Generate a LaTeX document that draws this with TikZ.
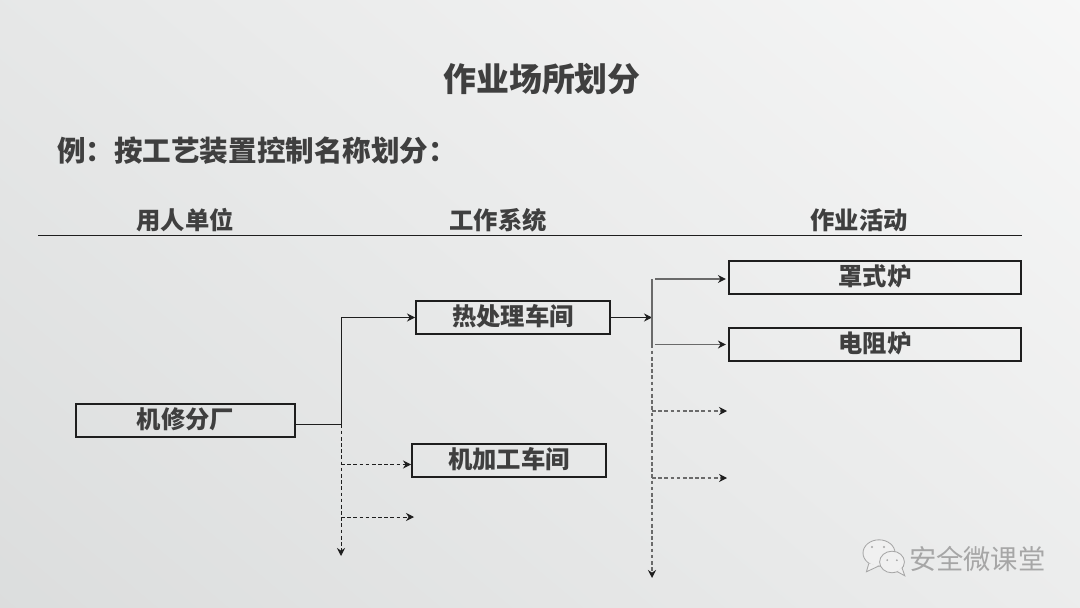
\documentclass[tikz,border=0pt]{standalone}
\usepackage{fontspec}
\usepackage{xcolor}
\usepackage{tikz}
\usetikzlibrary{arrows.meta, positioning, calc}
\setmainfont{Noto Sans CJK SC}
\definecolor{inkdark}{HTML}{3F3F3F}
\definecolor{linedark}{HTML}{1E1E1E}
\definecolor{linegray}{HTML}{6A6A6A}
\definecolor{markgray}{HTML}{A6A6A6}
\definecolor{paperlow}{HTML}{D6D8D8}
\definecolor{paperhigh}{HTML}{FCFCFC}
\pgfdeclareverticalshading{papersheen}{100bp}{color(0bp)=(paperlow); color(100bp)=(paperhigh)}
\tikzset{
  headtext/.style={font=\fontsize{17.3}{20}\selectfont\bfseries, text=inkdark, inner sep=0pt},
  boxnode/.style={draw=linedark, line width=1.4pt, minimum height=0.825cm, inner sep=0pt,
    text height=14.5pt, text depth=3.1pt,
    font=\fontsize{17.3}{20}\selectfont\bfseries, text=inkdark},
  link/.style={draw=linedark, line width=0.7pt},
  tipped/.style={-{Stealth[length=2mm,width=2mm,color=linedark]}},
  dashlink/.style={link, dash pattern=on 2.6pt off 1.8pt},
  graylink/.style={draw=linegray, line width=1.3pt},
  graydash/.style={draw=linegray, line width=1.1pt, dash pattern=on 2.6pt off 1.8pt},
  bubble/.style={fill=white!94!black, draw=markgray, line width=0.6pt}
}

\begin{document}
\begin{tikzpicture}[x=1cm, y=1cm]
\useasboundingbox (0,0) rectangle (27,15.175);
\shade[shading=papersheen, shading angle=-40] (0,0) rectangle (27,15.175);
% headings
\node[font=\fontsize{23.4}{28}\selectfont\bfseries, text=inkdark, inner sep=0pt] (title) at (13.55,13.2) {作业场所划分};
\node[font=\fontsize{20.3}{24}\selectfont\bfseries, text=inkdark, anchor=west, inner sep=0pt] (subtitle) at (1.425,11.4) {例：按工艺装置控制名称划分：};
\node[headtext] (unit) at (4.625,9.675) {用人单位};
\node[headtext] (system) at (12.45,9.675) {工作系统};
\node[headtext] (work) at (21.475,9.675) {作业活动};
\coordinate (ruleL) at (0.95,9.3);
\coordinate (ruleR) at (25.55,9.3);
\draw[link, line width=0.6pt] (ruleL) -- (ruleR);
% boxes
\node[boxnode, minimum width=5.475cm] (jixiu) at (4.6375,4.6625) {机修分厂};
\node[boxnode, minimum width=4.85cm] (rechuli) at (12.825,7.2375) {热处理车间};
\node[boxnode, minimum width=4.85cm] (jiagong) at (12.725,3.6625) {机加工车间};
\node[boxnode, minimum width=7.3cm] (zhaoshi) at (21.875,8.2375) {罩式炉};
\node[boxnode, minimum width=7.3cm] (dianzu) at (21.875,6.5625) {电阻炉};
% left branch
\coordinate (trunkA) at (8.525,4.5625);
\coordinate (trunkEnd) at (8.525,1.275);
\coordinate (branchA) at (8.525,3.5625);
\coordinate (branchB) at (8.525,2.25);
\coordinate (branchBEnd) at (10.35,2.25);
\draw[link] (jixiu.east |- trunkA) -- (trunkA);
\draw[link, tipped] (trunkA) |- (rechuli.west);
\draw[dashlink, tipped] (trunkA) -- (trunkEnd);
\draw[dashlink, tipped] (branchA) -- (branchA -| jiagong.west);
\draw[dashlink, tipped] (branchB) -- (branchBEnd);
% right branch
\coordinate (hubTop) at (16.3,8.2);
\coordinate (hubMid) at (16.3,7.2375);
\coordinate (hubLow) at (16.3,6.5625);
\coordinate (hubEnd) at (16.3,0.725);
\coordinate (stubA) at (16.3,4.9);
\coordinate (stubAEnd) at (18.175,4.9);
\coordinate (stubB) at (16.3,3.225);
\coordinate (stubBEnd) at (18.175,3.225);
\draw[link, tipped] (rechuli.east) -- (hubMid);
\draw[graylink] (hubTop) -- (hubLow);
\draw[graylink, tipped, shorten <=2pt, shorten >=1.5pt] (hubTop) -- (hubTop -| zhaoshi.west);
\draw[graylink, tipped, shorten <=2pt, shorten >=1.5pt] (hubLow) -- (dianzu.west);
\draw[graydash, tipped] (hubLow) -- (hubEnd);
\draw[graydash, tipped] (stubA) -- (stubAEnd);
\draw[graydash, tipped] (stubB) -- (stubBEnd);
% watermark
\draw[bubble] (21.975,1.35) ellipse (0.4 and 0.33);
\draw[bubble] (21.72,1.09) -- (21.66,0.88) -- (21.98,1.03);
\draw[bubble] (22.3,1.125) ellipse (0.31 and 0.27);
\draw[bubble] (22.42,0.89) -- (22.62,0.78) -- (22.55,0.98);
\fill[markgray] (21.8,1.5) circle (0.03) (22.1,1.5) circle (0.03) (22.18,1.17) circle (0.025) (22.42,1.17) circle (0.025);
\node[font=\fontsize{19.4}{23}\selectfont, text=markgray, anchor=west, inner sep=0pt] (mark) at (22.72,1.19) {安全微课堂};
\end{tikzpicture}
\end{document}
